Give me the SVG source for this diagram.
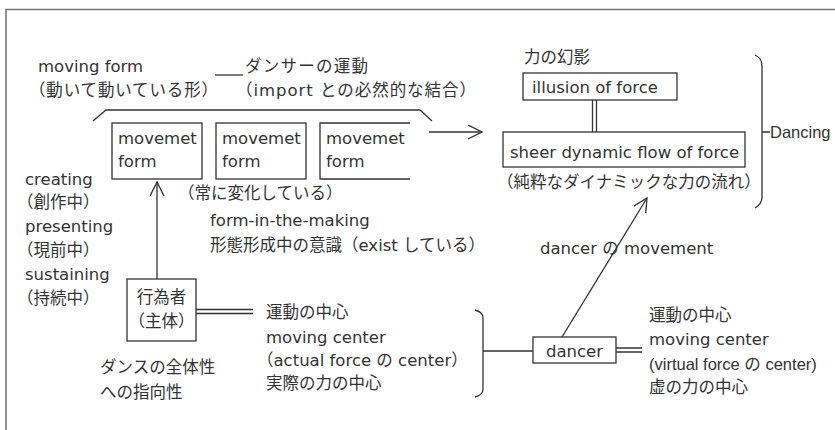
<svg xmlns="http://www.w3.org/2000/svg" width="835" height="430" viewBox="0 0 835 430">
<defs>
<style>
text{font-family:"DejaVu Sans","Noto Sans CJK JP",sans-serif;font-size:16.5px;fill:#333}
text.ls{font-family:"Liberation Sans","Noto Sans CJK JP",sans-serif}
.ln{fill:none;stroke:#333;stroke-width:1.3}
.box{fill:#fff;stroke:#333;stroke-width:1.3}
.frame{fill:none;stroke:#777;stroke-width:1.6}
.mid{text-anchor:middle}
</style>
<marker id="ah" markerUnits="userSpaceOnUse" markerWidth="16" markerHeight="16" refX="14" refY="7" orient="auto">
<path d="M0,0 L14,7 L0,14" fill="none" stroke="#333" stroke-width="1.3"/>
</marker>
</defs>
<rect width="835" height="430" fill="#fff"/>
<path class="frame" d="M6,430 L6,9.5 L835,9.5"/>

<g id="labels-top">
<text x="38" y="72">moving form</text>
<text x="29" y="96" textLength="189">（動いて動いている形）</text>
<text x="245" y="72" textLength="123">ダンサーの運動</text>
<text x="236" y="96" textLength="240">（import との必然的な結合）</text>
</g>

<g id="movement-forms">
<rect class="box" x="112" y="123" width="90" height="56"/>
<text x="118" y="144">movemet</text>
<text x="118" y="167">form</text>
<rect class="box" x="216" y="123" width="90" height="56"/>
<text x="222" y="144">movemet</text>
<text x="222" y="167">form</text>
<path class="ln" d="M410,123 L320,123 L320,179 L410,179"/>
<text x="326" y="144">movemet</text>
<text x="326" y="167">form</text>
<text x="178" y="199">（常に変化している）</text>
<text x="210" y="226">form-in-the-making</text>
<text x="210" y="251">形態形成中の意識（exist している）</text>
</g>

<g id="left-column">
<text x="25" y="185">creating</text>
<text x="17" y="208">（創作中）</text>
<text x="25" y="232">presenting</text>
<text x="17" y="256">（現前中）</text>
<text x="25" y="280">sustaining</text>
<text x="17" y="304">（持続中）</text>
</g>

<g id="actor">
<rect class="box" x="127" y="279" width="69" height="62"/>
<text class="mid" x="161.5" y="303">行為者</text>
<text class="mid" x="161.5" y="327">（主体）</text>
<text x="100" y="373">ダンスの全体性</text>
<text x="100" y="398">への指向性</text>
</g>

<g id="actual-center">
<text x="266" y="318">運動の中心</text>
<text x="266" y="343">moving center</text>
<text x="257" y="366">（actual force の center）</text>
<text x="266" y="389">実際の力の中心</text>
</g>

<g id="dancer">
<rect class="box" x="533" y="337" width="83" height="26"/>
<text class="mid" x="574.5" y="357">dancer</text>
</g>

<g id="virtual-center">
<text x="649" y="321">運動の中心</text>
<text x="649" y="345">moving center</text>
<text class="ls" x="649" y="370">(virtual force の center)</text>
<text x="649" y="393">虚の力の中心</text>
</g>

<g id="illusion">
<text x="524" y="63">力の幻影</text>
<rect class="box" x="523" y="73" width="154" height="27"/>
<text x="532" y="93">illusion of force</text>
</g>

<g id="sheer-flow">
<rect class="box" x="503" y="132" width="242" height="35"/>
<text x="510" y="158">sheer dynamic flow of force</text>
<text x="497" y="188">（純粋なダイナミックな力の流れ）</text>
</g>

<g id="dancing">
<text class="ls" x="770" y="138">Dancing</text>
</g>

<g id="connectors">
<path class="ln" d="M215,75 L243,75"/>
<path class="ln" d="M93,121 L106,110 L420,110 L432,121"/>
<path class="ln" d="M429,132 L482,132" marker-end="url(#ah)"/>
<path class="ln" d="M157,279 L157,182" marker-end="url(#ah)"/>
<path class="ln" d="M196,309.5 L253,309.5 M196,313.5 L253,313.5"/>
<path class="ln" d="M475,310 Q483,312 483,318 L483,389 Q483,395 475,397 M483,351 L533,351"/>
<path class="ln" d="M616,348 L642,348 M616,352 L642,352"/>
<path class="ln" d="M562,337 L647,198" marker-end="url(#ah)"/>
<path class="ln" d="M592.5,100 L592.5,132 M596.5,100 L596.5,132"/>
<path class="ln" d="M755,55 Q762,58 762,66 L762,197 Q762,204 755,208 M762,132 L770,132"/>
</g>
<g id="dancer-movement-label">
<text x="540" y="254">dancer の movement</text>
</g>
</svg>
